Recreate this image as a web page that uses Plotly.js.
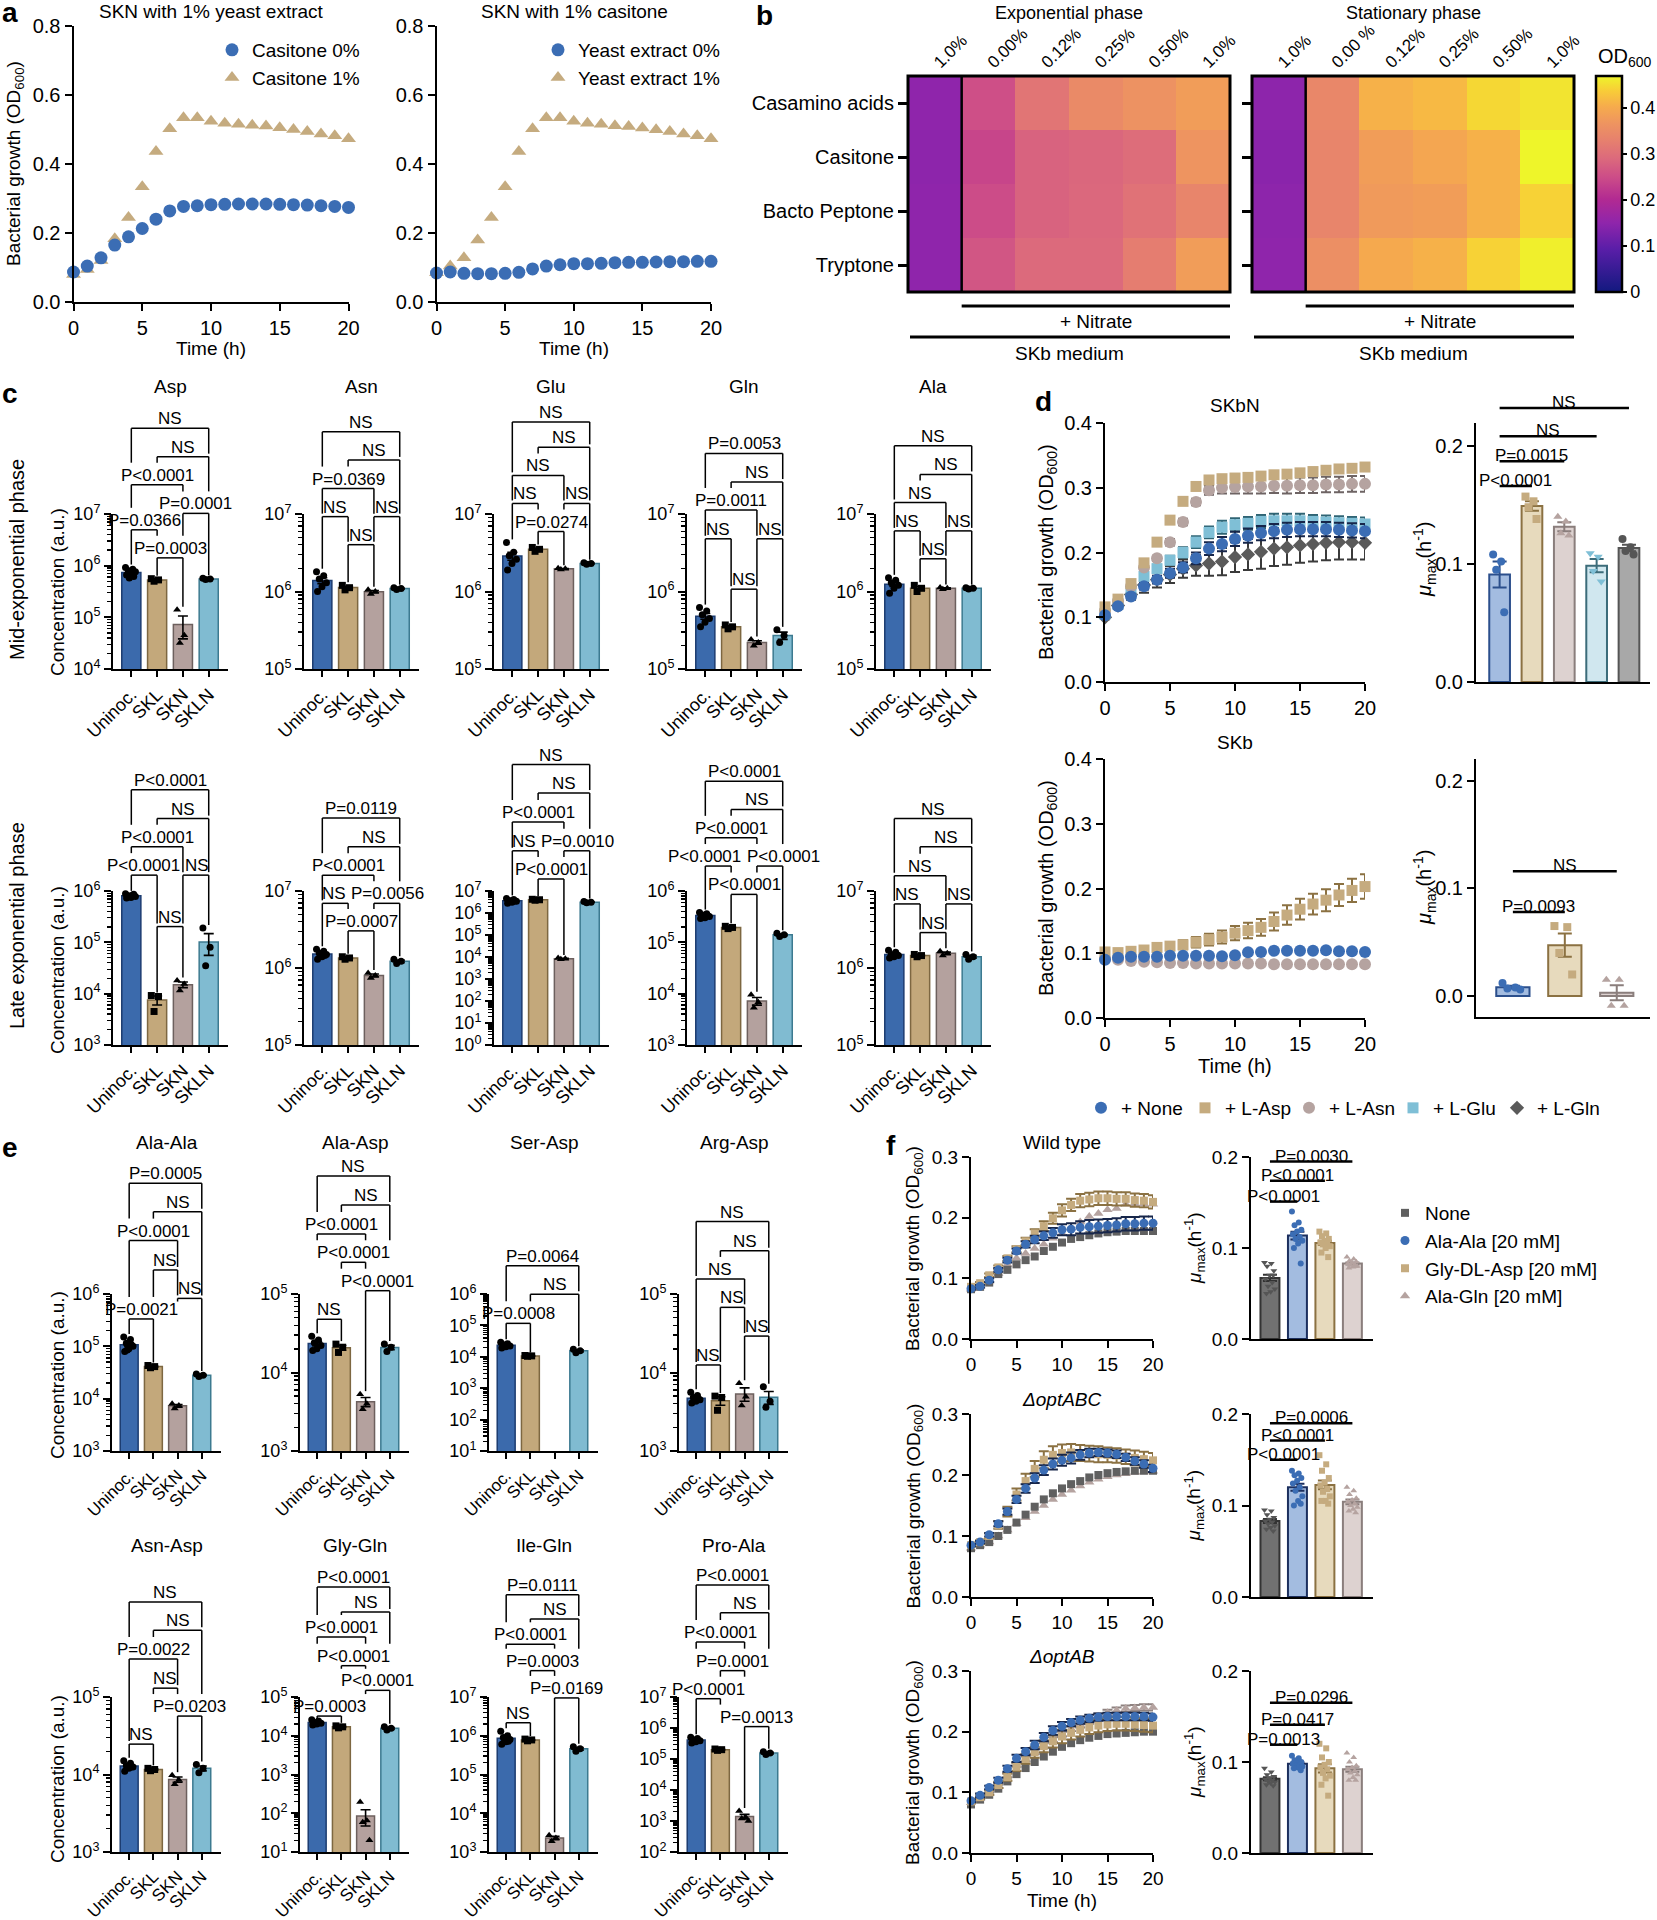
<!DOCTYPE html>
<html><head><meta charset="utf-8">
<script src="https://cdn.plot.ly/plotly-3.0.1.min.js"></script>
<style>html,body{margin:0;padding:0;background:#fff;}#chart{width:1657px;height:1920px;}</style>
</head><body><div id="chart"></div>
<script>
// ======================= DATA =======================
const timeH = [0,1,2,3,4,5,6,7,8,9,10,11,12,13,14,15,16,17,18,19,20];

// ---- panel a
const aCasitone0 = [0.087,0.104,0.128,0.165,0.189,0.213,0.240,0.264,0.277,0.279,0.282,0.283,0.284,0.284,0.284,0.283,0.282,0.281,0.279,0.277,0.274];
const aCasitone1 = [0.080,0.094,0.120,0.183,0.245,0.334,0.436,0.502,0.534,0.534,0.524,0.518,0.515,0.512,0.510,0.505,0.500,0.494,0.487,0.482,0.473];
const aYeast0 = [0.084,0.087,0.083,0.082,0.082,0.083,0.086,0.096,0.104,0.108,0.111,0.111,0.112,0.114,0.115,0.115,0.116,0.117,0.117,0.118,0.118];
const aYeast1 = [0.085,0.104,0.128,0.180,0.245,0.334,0.436,0.502,0.534,0.534,0.524,0.518,0.515,0.511,0.509,0.504,0.499,0.494,0.487,0.482,0.473];

// ---- panel b
const bRows = ['Casamino acids','Casitone','Bacto Peptone','Tryptone'];
const bColsExp = ['1.0%','0.00%','0.12%','0.25%','0.50%','1.0%'];
const bColsStat = ['1.0%','0.00 %','0.12%','0.25%','0.50%','1.0%'];
const bExp = [[0.150,0.254,0.310,0.348,0.362,0.380],[0.148,0.240,0.282,0.287,0.296,0.367],[0.150,0.249,0.282,0.289,0.305,0.338],[0.150,0.263,0.291,0.291,0.324,0.380]];
const bStat = [[0.148,0.343,0.409,0.418,0.446,0.456],[0.145,0.338,0.381,0.395,0.409,0.470],[0.148,0.338,0.376,0.381,0.409,0.442],[0.150,0.357,0.400,0.409,0.442,0.465]];

// ---- panel c / e groups
const groups = ['Uninoc.','SKL','SKN','SKLN'];
// mid-exponential
const aspMid = [[9.2e5,8.5e5,8.0e5,7.6e5,7.0e5,6.6e5,6.2e5,5.8e5],[5.6e5,5.3e5,5.0e5],[1.4e5,4.5e4,3.2e4],[5.7e5,5.5e5,5.4e5]];
const asnMid = [[1.8e6,1.6e6,1.45e6,1.3e6,1.15e6,1.0e6],[1.2e6,1.12e6,1.05e6],[1.05e6,1.0e6,0.93e6],[1.12e6,1.09e6,1.06e6]];
const gluMid = [[4.3e6,3.2e6,2.9e6,2.6e6,2.3e6,1.9e6],[3.7e6,3.5e6,3.3e6],[2.0e6,1.96e6,1.92e6],[2.35e6,2.3e6,2.25e6]];
const glnMid = [[6.2e5,5.6e5,5.0e5,4.5e5,4.0e5,3.5e5],[3.7e5,3.5e5,3.3e5],[2.4e5,2.2e5,2.0e5],[3.2e5,2.7e5,2.2e5]];
const alaMid = [[1.5e6,1.4e6,1.3e6,1.2e6,1.1e6,0.95e6],[1.2e6,1.1e6,1.0e6],[1.13e6,1.1e6,1.07e6],[1.12e6,1.1e6,1.08e6]];
// late exponential
const aspLate = [[8.8e5,8.4e5,8.1e5,7.8e5,7.5e5,7.3e5,8.6e5,7.9e5],[9.2e3,8.8e3,4.5e3],[1.8e4,1.55e4,1.15e4],[1.9e5,8.0e4,3.5e4]];
const asnLate = [[1.75e6,1.65e6,1.55e6,1.5e6,1.4e6,1.3e6,1.45e6],[1.4e6,1.35e6,1.3e6],[8.6e5,8.0e5,7.4e5],[1.3e6,1.22e6,1.14e6]];
const gluLate = [[4.6e6,4.1e6,3.7e6,3.4e6,3.1e6,2.8e6,3.5e6],[4.2e6,4.0e6,3.8e6],[9.0e3,8.4e3,7.8e3],[3.3e6,3.1e6,2.9e6]];
const glnLate = [[3.8e5,3.6e5,3.4e5,3.2e5,3.0e5,2.9e5,3.3e5],[2.05e5,1.95e5,1.85e5],[9.5e3,6.8e3,5.3e3],[1.5e5,1.4e5,1.3e5]];
const alaLate = [[1.7e6,1.6e6,1.5e6,1.45e6,1.4e6,1.35e6,1.5e6],[1.5e6,1.45e6,1.4e6],[1.65e6,1.55e6,1.45e6],[1.5e6,1.4e6,1.3e6]];
// dipeptides
const alaAla = [[1.5e5,1.35e5,1.15e5,1.0e5,9.0e4,8.0e4,1.05e5,8.5e4],[4.3e4,4.1e4,3.9e4],[8.0e3,7.4e3,6.5e3],[2.95e4,2.8e4,2.65e4]];
const alaAsp = [[2.9e4,2.6e4,2.4e4,2.2e4,2.0e4,1.9e4],[2.3e4,2.1e4,1.8e4],[5.3e3,4.0e3,3.4e3],[2.3e4,2.1e4,1.85e4]];
const serAsp = [[2.9e4,2.6e4,2.4e4,2.2e4,2.1e4,1.9e4],[1.1e4,1.07e4,1.04e4],[],[1.75e4,1.55e4,1.35e4]];
const argAsp = [[5.6e3,5.1e3,4.8e3,4.5e3,4.3e3,4.1e3,4.5e3],[5.0e3,4.8e3,3.3e3],[7.3e3,4.9e3,3.8e3],[6.6e3,4.3e3,3.6e3]];
const asnAsp = [[1.5e4,1.4e4,1.3e4,1.25e4,1.2e4,1.1e4,1.25e4],[1.2e4,1.16e4,1.12e4],[9.8e3,8.5e3,7.5e3],[1.35e4,1.2e4,1.05e4]];
const glyGln = [[2.6e4,2.4e4,2.2e4,2.1e4,2.0e4,1.9e4],[1.8e4,1.7e4,1.6e4],[195,65,59,20],[1.7e4,1.55e4,1.4e4]];
const ileGln = [[1.3e6,1.0e6,9.0e5,8.0e5,7.0e5,6.0e5,7.2e5],[8.2e5,7.8e5,7.4e5],[2.7e3,2.3e3,1.9e3],[5.2e5,4.6e5,4.0e5]];
const proAla = [[5.0e5,4.6e5,4.2e5,3.9e5,3.6e5,3.3e5],[2.1e5,2.0e5,1.9e5],[2.1e3,1.3e3,1.2e3,1.0e3],[1.7e5,1.55e5,1.4e5]];

// significance comparisons [group i, group j, label, bracket height (fraction of axis height)]
const aspMidBr = [[0,1,'P=0.0366',0.898],[1,2,'P=0.0003',0.717],[2,3,'P=0.0001',1.004],[0,2,'P<0.0001',1.189],[1,3,'NS',1.370],[0,3,'NS',1.553]];
const asnMidBr = [[0,1,'NS',0.983],[1,2,'NS',0.802],[2,3,'NS',0.983],[0,2,'P=0.0369',1.164],[1,3,'NS',1.349],[0,3,'NS',1.530]];
const gluMidBr = [[0,1,'NS',1.068],[1,2,'P=0.0274',0.887],[2,3,'NS',1.068],[0,2,'NS',1.249],[1,3,'NS',1.430],[0,3,'NS',1.594]];
const glnMidBr = [[0,1,'NS',0.840],[1,2,'NS',0.515],[2,3,'NS',0.840],[0,2,'P=0.0011',1.026],[1,3,'NS',1.206],[0,3,'P=0.0053',1.391]];
const alaMidBr = [[0,1,'NS',0.891],[1,2,'NS',0.711],[2,3,'NS',0.891],[0,2,'NS',1.074],[1,3,'NS',1.255],[0,3,'NS',1.440]];
const aspLateBr = [[0,1,'P<0.0001',1.103],[1,2,'NS',0.769],[2,3,'NS',1.103],[0,2,'P<0.0001',1.287],[1,3,'NS',1.470],[0,3,'P<0.0001',1.657]];
const asnLateBr = [[0,1,'NS',0.920],[1,2,'P=0.0007',0.741],[2,3,'P=0.0056',0.920],[0,2,'P<0.0001',1.103],[1,3,'NS',1.287],[0,3,'P=0.0119',1.474]];
const gluLateBr = [[0,1,'NS',1.261],[1,2,'P<0.0001',1.078],[2,3,'P=0.0010',1.261],[0,2,'P<0.0001',1.448],[1,3,'NS',1.636],[0,3,'NS',1.821]];
const glnLateBr = [[0,1,'P<0.0001',1.162],[1,2,'P<0.0001',0.978],[2,3,'P<0.0001',1.162],[0,2,'P<0.0001',1.345],[1,3,'NS',1.530],[0,3,'P<0.0001',1.713]];
const alaLateBr = [[0,1,'NS',0.916],[1,2,'NS',0.730],[2,3,'NS',0.916],[0,2,'NS',1.099],[1,3,'NS',1.287],[0,3,'NS',1.470]];
const alaAlaBr = [[0,1,'P=0.0021',0.841],[2,3,'NS',0.972],[1,2,'NS',1.153],[0,2,'P<0.0001',1.340],[1,3,'NS',1.524],[0,3,'P=0.0005',1.705]];
const alaAspBr = [[0,1,'NS',0.839],[2,3,'P<0.0001',1.021],[1,2,'P<0.0001',1.202],[0,2,'P<0.0001',1.382],[1,3,'NS',1.567],[0,3,'NS',1.752]];
const serAspBr = [[0,1,'P=0.0008',0.813],[1,3,'NS',0.998],[0,3,'P=0.0064',1.180]];
const argAspBr = [[0,1,'NS',0.548],[2,3,'NS',0.732],[1,2,'NS',0.915],[0,2,'NS',1.096],[1,3,'NS',1.276],[0,3,'NS',1.461]];
const asnAspBr = [[0,1,'NS',0.696],[2,3,'P=0.0203',0.877],[1,2,'NS',1.057],[0,2,'P=0.0022',1.245],[1,3,'NS',1.430],[0,3,'NS',1.613]];
const glyGlnBr = [[0,1,'P=0.0003',0.877],[2,3,'P<0.0001',1.043],[1,2,'P<0.0001',1.202],[0,2,'P<0.0001',1.387],[1,3,'NS',1.549],[0,3,'P<0.0001',1.709]];
const ileGlnBr = [[0,1,'NS',0.834],[2,3,'P=0.0169',0.994],[1,2,'P=0.0003',1.170],[0,2,'P<0.0001',1.340],[1,3,'NS',1.504],[0,3,'P=0.0111',1.660]];
const proAlaBr = [[2,3,'P=0.0013',0.809],[0,1,'P<0.0001',0.989],[1,2,'P=0.0001',1.170],[0,2,'P<0.0001',1.355],[1,3,'NS',1.543],[0,3,'P<0.0001',1.723]];

// ---- panel d (SKbN, SKb)
const dNone = [0.103,0.117,0.132,0.148,0.158,0.168,0.177,0.191,0.206,0.213,0.221,0.226,0.230,0.233,0.235,0.236,0.236,0.236,0.235,0.234,0.233];
const dNoneErr = [0.002,0.003,0.004,0.005,0.006,0.007,0.008,0.009,0.010,0.011,0.011,0.011,0.011,0.011,0.011,0.011,0.011,0.011,0.011,0.011,0.011];
const dAsp = [0.116,0.128,0.152,0.184,0.216,0.250,0.279,0.302,0.312,0.314,0.315,0.316,0.318,0.320,0.321,0.323,0.325,0.327,0.329,0.330,0.332];
const dAspErr = [0.002,0.002,0.003,0.003,0.003,0.003,0.003,0.003,0.003,0.003,0.003,0.003,0.003,0.003,0.003,0.003,0.003,0.003,0.003,0.003,0.003];
const dAsn = [0.110,0.125,0.148,0.177,0.191,0.216,0.247,0.278,0.296,0.300,0.301,0.302,0.302,0.303,0.303,0.304,0.304,0.305,0.305,0.306,0.306];
const dAsnErr = [0.002,0.003,0.003,0.004,0.004,0.005,0.005,0.005,0.007,0.009,0.010,0.011,0.011,0.011,0.012,0.012,0.012,0.012,0.012,0.012,0.012];
const dGlu = [0.105,0.120,0.140,0.163,0.175,0.188,0.200,0.216,0.231,0.239,0.243,0.245,0.248,0.249,0.249,0.249,0.248,0.247,0.246,0.245,0.244];
const dGluErr = [0.002,0.003,0.004,0.005,0.006,0.007,0.008,0.009,0.009,0.010,0.010,0.010,0.010,0.011,0.011,0.011,0.010,0.010,0.010,0.010,0.010];
const dGln = [0.100,0.118,0.135,0.150,0.158,0.166,0.175,0.180,0.183,0.186,0.193,0.197,0.201,0.206,0.208,0.211,0.213,0.215,0.216,0.216,0.215];
const dGlnErr = [0.003,0.005,0.008,0.012,0.012,0.013,0.014,0.016,0.019,0.021,0.023,0.024,0.026,0.027,0.027,0.027,0.027,0.027,0.027,0.027,0.026];
const d2None = [0.090,0.093,0.0945,0.0945,0.0945,0.096,0.096,0.096,0.096,0.0955,0.097,0.1015,0.102,0.104,0.104,0.104,0.104,0.1045,0.103,0.103,0.102];
const d2Asp = [0.102,0.101,0.103,0.105,0.109,0.111,0.113,0.117,0.121,0.125,0.131,0.135,0.140,0.149,0.159,0.168,0.176,0.182,0.190,0.197,0.203];
const d2AspErr = [0.003,0.003,0.004,0.004,0.005,0.006,0.007,0.008,0.009,0.010,0.011,0.012,0.013,0.014,0.015,0.016,0.016,0.017,0.017,0.018,0.019];
const d2Asn = [0.092,0.090,0.088,0.087,0.086,0.085,0.085,0.084,0.084,0.084,0.084,0.084,0.084,0.083,0.083,0.083,0.083,0.083,0.083,0.083,0.083];
const dNames = ['+ None','+ L-Asp','+ L-Asn','+ L-Glu','+ L-Gln'];
const dMuSKbN = [[0.108,0.102,0.095,0.059],[0.157,0.153,0.148,0.138],[0.140,0.136,0.126,0.124],[0.109,0.106,0.094,0.085],[0.121,0.114,0.111,0.108]];
const dMuSKb = [[0.012,0.008,0.007,0.006],[0.065,0.064,0.040,0.020],[0.015,0.015,-0.009,-0.009]];
const dMuSKbNBr = [[0,1,'P<0.0001',0.166],[0,2,'P=0.0015',0.187],[0,3,'NS',0.208],[0,4,'NS',0.232]];
const dMuSKbBr = [[0,1,'P=0.0093',0.078],[0,2,'NS',0.116]];

// ---- panel f
const fNames = ['None','Ala-Ala [20 mM]','Gly-DL-Asp [20 mM]','Ala-Gln [20 mM]'];
const fWtNone = [0.082,0.086,0.093,0.107,0.114,0.123,0.130,0.136,0.145,0.152,0.159,0.165,0.168,0.171,0.174,0.176,0.177,0.178,0.178,0.178,0.178];
const fWtAlaAla = [0.083,0.087,0.097,0.114,0.130,0.145,0.156,0.164,0.170,0.175,0.180,0.181,0.184,0.185,0.186,0.187,0.188,0.190,0.190,0.191,0.191];
const fWtAlaAlaErr = [0.002,0.002,0.003,0.003,0.004,0.004,0.005,0.006,0.007,0.008,0.009,0.010,0.010,0.011,0.011,0.011,0.011,0.011,0.011,0.011,0.011];
const fWtGlyAsp = [0.086,0.092,0.105,0.118,0.133,0.148,0.161,0.174,0.186,0.199,0.212,0.221,0.228,0.230,0.232,0.232,0.231,0.231,0.229,0.228,0.226];
const fWtGlyAspErr = [0.002,0.002,0.003,0.003,0.004,0.005,0.006,0.007,0.008,0.009,0.010,0.010,0.011,0.011,0.011,0.011,0.011,0.011,0.011,0.011,0.011];
const fWtAlaGln = [0.082,0.087,0.095,0.108,0.123,0.133,0.141,0.149,0.156,0.166,0.174,0.183,0.193,0.202,0.207,0.213,0.215,0.222,0.223,0.223,0.222];
const fAbcNone = [0.080,0.085,0.090,0.100,0.110,0.122,0.135,0.148,0.160,0.170,0.178,0.185,0.190,0.196,0.200,0.203,0.205,0.206,0.207,0.207,0.207];
const fAbcAlaAla = [0.085,0.090,0.102,0.120,0.140,0.160,0.178,0.195,0.208,0.218,0.224,0.228,0.233,0.236,0.237,0.236,0.234,0.229,0.223,0.218,0.211];
const fAbcAlaAlaErr = [0.002,0.002,0.003,0.004,0.005,0.006,0.007,0.008,0.008,0.009,0.009,0.009,0.008,0.007,0.006,0.006,0.006,0.006,0.006,0.006,0.006];
const fAbcGlyAsp = [0.085,0.090,0.100,0.118,0.140,0.168,0.190,0.210,0.225,0.233,0.236,0.237,0.236,0.235,0.234,0.233,0.232,0.230,0.228,0.226,0.224];
const fAbcGlyAspErr = [0.002,0.003,0.004,0.006,0.008,0.010,0.012,0.013,0.014,0.014,0.014,0.014,0.013,0.013,0.013,0.012,0.012,0.012,0.012,0.012,0.012];
const fAbcAlaGln = [0.080,0.085,0.090,0.100,0.110,0.120,0.130,0.140,0.150,0.160,0.168,0.175,0.182,0.188,0.193,0.197,0.200,0.202,0.204,0.205,0.206];
const fAbNone = [0.080,0.088,0.096,0.106,0.118,0.130,0.140,0.150,0.159,0.167,0.175,0.181,0.186,0.190,0.193,0.196,0.197,0.198,0.199,0.200,0.200];
const fAbAlaAla = [0.086,0.095,0.108,0.120,0.139,0.156,0.167,0.178,0.191,0.202,0.209,0.215,0.219,0.222,0.224,0.225,0.225,0.225,0.225,0.225,0.224];
const fAbAlaAlaErr = [0.002,0.003,0.003,0.004,0.005,0.006,0.006,0.007,0.007,0.007,0.007,0.006,0.006,0.006,0.006,0.006,0.006,0.006,0.006,0.006,0.006];
const fAbGlyAsp = [0.085,0.092,0.100,0.112,0.125,0.142,0.155,0.166,0.176,0.184,0.192,0.198,0.203,0.207,0.210,0.212,0.213,0.213,0.212,0.211,0.210];
const fAbGlyAspErr = [0.002,0.003,0.004,0.005,0.006,0.007,0.008,0.009,0.010,0.010,0.011,0.011,0.011,0.011,0.011,0.011,0.011,0.011,0.011,0.011,0.011];
const fAbAlaGln = [0.083,0.090,0.098,0.110,0.128,0.145,0.155,0.167,0.177,0.187,0.196,0.205,0.212,0.218,0.225,0.231,0.235,0.238,0.239,0.240,0.240];
const fAbAlaGlnErr = [0.001,0.002,0.002,0.003,0.003,0.003,0.004,0.004,0.004,0.004,0.004,0.004,0.005,0.005,0.005,0.005,0.005,0.005,0.005,0.005,0.005];
const fMuWt = [[0.084,0.083,0.080,0.075,0.070,0.066,0.062,0.058,0.055,0.052,0.050,0.070],[0.140,0.128,0.125,0.120,0.118,0.115,0.112,0.110,0.108,0.105,0.100,0.083],[0.118,0.116,0.113,0.110,0.108,0.106,0.105,0.104,0.102,0.100,0.095,0.090],[0.090,0.088,0.086,0.085,0.084,0.083,0.082,0.081,0.080,0.079,0.078,0.080]];
const fMuAbc = [[0.095,0.094,0.090,0.087,0.085,0.083,0.082,0.080,0.078,0.076,0.074,0.072],[0.138,0.135,0.133,0.130,0.127,0.124,0.120,0.116,0.110,0.105,0.100,0.102],[0.155,0.145,0.138,0.130,0.125,0.122,0.118,0.115,0.110,0.105,0.105,0.102],[0.120,0.116,0.112,0.108,0.106,0.104,0.102,0.100,0.098,0.096,0.094,0.092]];
const fMuAb = [[0.093,0.089,0.086,0.084,0.082,0.081,0.080,0.079,0.078,0.077,0.075,0.074],[0.107,0.104,0.102,0.100,0.099,0.098,0.097,0.096,0.095,0.094,0.093,0.091],[0.120,0.115,0.105,0.100,0.097,0.094,0.092,0.088,0.085,0.082,0.075,0.063],[0.110,0.105,0.100,0.096,0.094,0.092,0.090,0.088,0.086,0.083,0.080,0.080]];
const fMuWtBr = [[0,1,'P<0.0001',0.151],[0,2,'P<0.0001',0.174],[0,3,'P=0.0030',0.195]];
const fMuAbcBr = [[0,1,'P<0.0001',0.150],[0,2,'P<0.0001',0.171],[0,3,'P=0.0006',0.190]];
const fMuAbBr = [[0,1,'P=0.0013',0.119],[0,2,'P=0.0417',0.141],[0,3,'P=0.0296',0.165]];

// ======================= STYLE / BUILD =======================
const W = 1657, H = 1920;
const FONT = '"Liberation Sans", Arial, Helvetica, sans-serif';
const BLUE='#3b6db4', TAN='#c5ab7f', MAUVE='#b5a3a0', LBLUE='#7fbfd6', DGREY='#5a5a5a';
const GROUP_FILL = ['#3b6aac','#c3a87b','#b4a19e','#80bbd1'];
const GROUP_EDGE = ['#1c3c70','#7d6741','#6d605e','#3c7a90'];
const GROUP_SYM = ['circle','square','triangle-up','circle'];
const CSCALE = [[0,'#12197f'],[0.2,'#5a1ea8'],[0.32,'#8f25ab'],[0.43,'#b22a92'],[0.53,'#cc4c88'],[0.62,'#dc6a7c'],[0.7,'#e6806e'],[0.78,'#ee9460'],[0.86,'#f6ac4c'],[0.93,'#f8cc38'],[1,'#eef52a']];

const traces = [];
const layout = {width:W, height:H, margin:{l:0,r:0,t:0,b:0,pad:0,autoexpand:false}, paper_bgcolor:'#fff', plot_bgcolor:'rgba(0,0,0,0)',
  font:{family:FONT, size:18, color:'#000'}, barmode:'overlay', showlegend:true, shapes:[], annotations:[]};
const shapes = layout.shapes, ann = layout.annotations;
const axisBase = {showline:true, linecolor:'#000', linewidth:2, ticks:'outside', tickwidth:2, ticklen:7, tickcolor:'#000',
  showgrid:false, zeroline:false, fixedrange:true, automargin:false, tickfont:{size:18, color:'#000'}};
let nAx = 0;
function makeAxes(l, r, t, b, xo, yo){
  nAx++; const s = nAx===1 ? '' : String(nAx);
  layout['xaxis'+s] = Object.assign({}, axisBase, {domain:[l/W, r/W], anchor:'y'+s}, xo);
  layout['yaxis'+s] = Object.assign({}, axisBase, {domain:[1-b/H, 1-t/H], anchor:'x'+s}, yo);
  return {x:'x'+s, y:'y'+s, l, r, t, b, xr:xo.range, yr:yo.range, ylog:yo.type==='log'};
}
function txt(x, y, text, o){ ann.push(Object.assign({xref:'paper', yref:'paper', x:x/W, y:1-y/H, text, showarrow:false, xanchor:'center', yanchor:'middle', font:{size:18, color:'#000'}}, o||{})); }
function hline(x0, x1, y, w){ shapes.push({type:'line', xref:'paper', yref:'paper', x0:x0/W, x1:x1/W, y0:1-y/H, y1:1-y/H, line:{color:'#000', width:w||2.5}}); }
function fx(ax, v){ return (v-ax.xr[0])/(ax.xr[1]-ax.xr[0]); }
function fy(ax, v){ const val = ax.ylog ? Math.log10(v) : v; return (val-ax.yr[0])/(ax.yr[1]-ax.yr[0]); }
const mean = a => a.reduce((s,v)=>s+v,0)/a.length;
const sem = a => { if(a.length<2) return 0; const m=mean(a); return Math.sqrt(a.reduce((s,v)=>s+(v-m)*(v-m),0)/(a.length-1)/a.length); };
const jit = (k,n,spread) => n<2 ? 0 : (((k*0.618034)%1)-0.5)*spread;
const cvs = document.createElement('canvas').getContext('2d');
function textW(t, size){ cvs.font = size+'px "Liberation Sans", Arial'; return cvs.measureText(t).width; }
function logAxis(r, size){
  const tv=[], tt=[], mv=[];
  for(let p=r[0]; p<=r[1]; p++){ tv.push(Math.pow(10,p)); tt.push('10<sup>'+p+'</sup>'); if(p<r[1]) for(let k=2;k<=9;k++) mv.push(k*Math.pow(10,p)); }
  return {type:'log', range:r, tickmode:'array', tickvals:tv, ticktext:tt, tickfont:{size:size||18, color:'#000'},
    minor:{tickmode:'array', tickvals:mv, ticks:'outside', ticklen:4, tickwidth:1.3, tickcolor:'#000'}};
}

// ---------- growth-curve helper
function growth(ax, y, err, name, sym, color, size, errColor, legend, rank){
  const t = {type:'scatter', mode:'markers', x:timeH, y, xaxis:ax.x, yaxis:ax.y, name, cliponaxis:false, hoverinfo:'skip',
    marker:{symbol:sym, size, color, line:{width:0}}};
  if(err) t.error_y = {type:'data', array:err, visible:true, color:errColor, thickness:2, width:5};
  if(legend){ t.legend = legend; t.legendrank = rank; t.showlegend = true; } else t.showlegend = false;
  traces.push(t);
}
function growthAxes(l, r, t, b, yr, ydt, tf){
  return makeAxes(l, r, t, b, {range:[0,20], dtick:5, tick0:0, tickfont:{size:tf||20, color:'#000'}},
    {range:yr, dtick:ydt, tick0:0, tickformat:'.1f', tickfont:{size:tf||20, color:'#000'}});
}

// ---------- concentration bar helper (c, e)
function concPlot(ax, pts, brackets){
  const means = pts.map(p => p.length ? mean(p) : null);
  const sems = pts.map(p => p.length ? sem(p) : 0);
  traces.push({type:'bar', x:[0,1,2,3], y:means, width:0.74, xaxis:ax.x, yaxis:ax.y, showlegend:false, hoverinfo:'skip',
    marker:{color:GROUP_FILL, line:{color:GROUP_EDGE, width:1.5}},
    error_y:{type:'data', array:sems, visible:true, color:'#000', thickness:1.6, width:5}});
  pts.forEach((p,g) => { if(!p.length) return;
    traces.push({type:'scatter', mode:'markers', x:p.map((v,k)=>g+jit(k,p.length,0.45)), y:p, xaxis:ax.x, yaxis:ax.y,
      marker:{symbol:GROUP_SYM[g], size:7, color:'#000'}, cliponaxis:false, showlegend:false, hoverinfo:'skip'}); });
  const hPx = ax.b-ax.t, unitPx = (ax.r-ax.l)/(ax.xr[1]-ax.xr[0]);
  const labH = 19/hPx, gap = 3/hPx;
  const tops = pts.map((p,g) => p.length ? fy(ax, Math.max(means[g]+sems[g], ...p)) : 0);
  const B = brackets.map(([i,j,lab,lev]) => ({i,j,lab,lev,c:(i+j)/2,cx:(i+j)/2,w:textW(lab,17)/unitPx}));
  // push apart labels that share a level and would overlap
  B.forEach(a => B.forEach(b => {
    if(a===b || Math.abs(a.lev-b.lev) > 0.005 || a.c >= b.c) return;
    const need = (a.w+b.w)/2 + 5/unitPx, d = b.cx-a.cx;
    if(d < need){ const s = (need-d)/2; a.cx -= s; b.cx += s; }
  }));
  B.forEach(b => {
    const bottom = col => { let ob = tops[col];
      B.forEach(m => { if(m.lev >= b.lev) return;
        if(col >= m.i && col <= m.j) ob = Math.max(ob, m.lev);
        if(Math.abs(col-m.cx) < m.w/2) ob = Math.max(ob, m.lev+labH); });
      return Math.min(ob+gap, b.lev-0.02); };
    const x0 = fx(ax,b.i), x1 = fx(ax,b.j), xr = ax.x+' domain', yr = ax.y+' domain';
    const L = {color:'#000', width:1.5};
    shapes.push({type:'line', xref:xr, yref:yr, x0, x1:x0, y0:bottom(b.i), y1:b.lev, line:L});
    shapes.push({type:'line', xref:xr, yref:yr, x0, x1, y0:b.lev, y1:b.lev, line:L});
    shapes.push({type:'line', xref:xr, yref:yr, x0:x1, x1, y0:bottom(b.j), y1:b.lev, line:L});
    ann.push({xref:xr, yref:yr, x:fx(ax,b.cx), y:b.lev, xanchor:'center', yanchor:'bottom', text:b.lab, showarrow:false,
      font:{size:17, color:'#000'}, borderpad:0, yshift:-1});
  });
}

// ---------- growth-rate bar helper (d, f)
function muPlot(ax, pts, st, brackets, bw){
  pts.forEach((p,g) => {
    traces.push({type:'bar', x:[g], y:[mean(p)], width:bw, xaxis:ax.x, yaxis:ax.y, showlegend:false, hoverinfo:'skip',
      marker:{color:st.fill[g], line:{color:st.edge[g], width:2}},
      error_y:{type:'data', array:[sem(p)], visible:true, color:st.edge[g], thickness:2, width:7}});
  });
  pts.forEach((p,g) => {
    traces.push({type:'scatter', mode:'markers', x:p.map((v,k)=>g+jit(k,p.length,0.4)), y:p, xaxis:ax.x, yaxis:ax.y,
      marker:{symbol:st.sym[g], size:st.size, color:st.pt[g]}, cliponaxis:false, showlegend:false, hoverinfo:'skip'});
  });
  brackets.forEach(([i,j,lab,lev]) => {
    const y = fy(ax,lev), xr = ax.x+' domain', yr = ax.y+' domain';
    shapes.push({type:'line', xref:xr, yref:yr, x0:fx(ax,i), x1:fx(ax,j), y0:y, y1:y, line:{color:'#000', width:2.5}});
    ann.push({xref:xr, yref:yr, x:fx(ax,(i+j)/2), y, xanchor:'center', yanchor:'bottom', text:lab, showarrow:false,
      font:{size:17, color:'#000'}, borderpad:0, yshift:-5});
  });
}
const muX = {showticklabels:false, ticks:''};
const muY = (r, f) => ({range:r, tickvals:[0,0.1,0.2], ticktext:['0.0','0.1','0.2'], tickfont:{size:f||20, color:'#000'}});

// ======================= PANEL a =======================
const A1 = growthAxes(73.5, 348.5, 26, 302, [0,0.8], 0.2);
const A2 = growthAxes(436.5, 711, 26, 302, [0,0.8], 0.2);
growth(A1, aCasitone1, null, 'Casitone 1%', 'triangle-up', TAN, 13, null, 'legend', 2);
growth(A1, aCasitone0, null, 'Casitone 0%', 'circle', BLUE, 13, null, 'legend', 1);
growth(A2, aYeast1, null, 'Yeast extract 1%', 'triangle-up', TAN, 13, null, 'legend2', 2);
growth(A2, aYeast0, null, 'Yeast extract 0%', 'circle', BLUE, 13, null, 'legend2', 1);
txt(211, 12, 'SKN with 1% yeast extract', {font:{size:19}});
txt(574, 12, 'SKN with 1% casitone', {font:{size:19}});
txt(211, 348, 'Time (h)', {font:{size:19}});
txt(574, 348, 'Time (h)', {font:{size:19}});
txt(15, 164, 'Bacterial growth (OD<sub>600</sub>)', {textangle:-90, font:{size:19}});
const legA = {xanchor:'left', yanchor:'top', bgcolor:'rgba(0,0,0,0)', font:{size:19}, tracegroupgap:0, itemwidth:30};
layout.legend = Object.assign({x:212/W, y:1-31/H}, legA);
layout.legend2 = Object.assign({x:538/W, y:1-31/H}, legA);

// ======================= PANEL b =======================
function heat(l, r, z, cols, rowLabels, showscale){
  const ax = makeAxes(l, r, 76, 292,
    {range:[-0.5,5.5], side:'top', tickmode:'array', tickvals:[0,1,2,3,4,5], ticktext:cols, tickangle:-45, ticks:'', showline:false, tickfont:{size:17, color:'#000'}},
    {range:[3.5,-0.5], tickmode:'array', tickvals:[0,1,2,3], ticktext:rowLabels ? bRows : ['','','',''], showticklabels:!!rowLabels, ticks:'outside', ticklen:9, tickwidth:3, showline:false, tickfont:{size:20, color:'#000'}});
  const tr = {type:'heatmap', z, x:[0,1,2,3,4,5], y:[0,1,2,3], xaxis:ax.x, yaxis:ax.y, zmin:0, zmax:0.47, colorscale:CSCALE,
    showscale, xgap:0, ygap:0, hoverinfo:'skip'};
  if(showscale) tr.colorbar = {x:1596/W, xanchor:'left', xref:'paper', y:1-292/H, yanchor:'bottom', yref:'paper',
    len:216/H, lenmode:'fraction', thickness:26, thicknessmode:'pixels', outlinewidth:2.5, outlinecolor:'#000',
    xpad:0, ypad:0, tickmode:'array', tickvals:[0,0.1,0.2,0.3,0.4], ticktext:['0','0.1','0.2','0.3','0.4'], ticks:'outside', ticklen:4, tickwidth:2, tickcolor:'#000', tickfont:{size:18, color:'#000'}};
  traces.push(tr);
  const xr = ax.x+' domain', yr = ax.y+' domain';
  shapes.push({type:'rect', xref:xr, yref:yr, x0:0, x1:1, y0:0, y1:1, line:{color:'#000', width:3}});
  shapes.push({type:'line', xref:xr, yref:yr, x0:fx(ax,0.5), x1:fx(ax,0.5), y0:0, y1:1, line:{color:'#000', width:2.5}});
  const c1 = l + (r-l)/6;
  hline(c1, r, 306, 3); txt((c1+r)/2, 321, '+ Nitrate', {font:{size:19}});
  hline(l+2, r, 337, 3); txt((l+r)/2, 353, 'SKb medium', {font:{size:19}});
  txt((l+r)/2, 13, r < 1240 ? 'Exponential phase' : 'Stationary phase', {font:{size:18}});
}
heat(908, 1230, bExp, bColsExp, true, false);
heat(1252, 1574, bStat, bColsStat, false, true);
txt(1596, 58, 'OD<sub>600</sub>', {xanchor:'left', font:{size:20}});

// ======================= PANEL c =======================
const cX = [113, 304, 494, 687, 876];
const cNames = ['Asp','Asn','Glu','Gln','Ala'];
const cMid = [aspMid, asnMid, gluMid, glnMid, alaMid];
const cMidBr = [aspMidBr, asnMidBr, gluMidBr, glnMidBr, alaMidBr];
const cMidR = [[4,7],[5,7],[5,7],[5,7],[5,7]];
const cLate = [aspLate, asnLate, gluLate, glnLate, alaLate];
const cLateBr = [aspLateBr, asnLateBr, gluLateBr, glnLateBr, alaLateBr];
const cLateR = [[3,6],[5,7],[0,7],[3,6],[5,7]];
const catX = (w, pitch, f) => ({range:[-0.71, -0.71 + w/pitch], tickmode:'array', tickvals:[0,1,2,3], ticktext:groups, tickangle:-45, ticklen:6, tickfont:{size:f, color:'#000'}});
for(let i=0;i<5;i++){
  const am = makeAxes(cX[i], cX[i]+115, 514, 669, catX(115, 25.8, 18), logAxis(cMidR[i]));
  concPlot(am, cMid[i], cMidBr[i]);
  txt(cX[i]+57, 387, cNames[i], {font:{size:19}});
  const al = makeAxes(cX[i], cX[i]+115, 891, 1045, catX(115, 25.8, 18), logAxis(cLateR[i]));
  concPlot(al, cLate[i], cLateBr[i]);
}
txt(17, 560, 'Mid-exponential phase', {textangle:-90, font:{size:20}});
txt(57, 592, 'Concentration (a.u.)', {textangle:-90, font:{size:19}});
txt(17, 926, 'Late exponential phase', {textangle:-90, font:{size:20}});
txt(57, 970, 'Concentration (a.u.)', {textangle:-90, font:{size:19}});

// ======================= PANEL d =======================
const D1 = growthAxes(1105, 1365, 423, 682, [0,0.4], 0.1);
growth(D1, dGln, dGlnErr, dNames[4], 'diamond', DGREY, 11, '#3a3a3a', 'legend3', 5);
growth(D1, dGlu, dGluErr, dNames[3], 'square', LBLUE, 11, '#2f6474', 'legend3', 4);
growth(D1, dAsn, dAsnErr, dNames[2], 'circle', MAUVE, 12, '#6e6464', 'legend3', 3);
growth(D1, dAsp, dAspErr, dNames[1], 'square', TAN, 11, '#8b7142', 'legend3', 2);
growth(D1, dNone, dNoneErr, dNames[0], 'circle', BLUE, 12, '#17264a', 'legend3', 1);
const D2 = growthAxes(1105, 1365, 759, 1018, [0,0.4], 0.1);
growth(D2, d2Asn, null, null, 'circle', MAUVE, 12);
growth(D2, d2Asp, d2AspErr, null, 'square', TAN, 11, '#8b7142');
growth(D2, d2None, null, null, 'circle', BLUE, 12);
const D_ST = {fill:['#a3bce0','#e7dabd','#ddd2d0','#d0e7ef','#a8a8a8'], edge:['#2b4f8c','#8b7142','#8a7e7c','#3c6c7a','#555555'],
  pt:[BLUE,TAN,MAUVE,LBLUE,'#555555'], sym:['circle','square','triangle-up','triangle-down','circle'], size:8};
const DM1 = makeAxes(1476, 1650, 423, 682, Object.assign({range:[-0.73,4.65]}, muX), muY([0,0.2193]));
muPlot(DM1, dMuSKbN, D_ST, dMuSKbNBr, 0.64);
const DM2 = makeAxes(1476, 1650, 759, 1017, Object.assign({range:[-0.71,2.64]}, muX), muY([-0.0195,0.2202]));
muPlot(DM2, dMuSKb, D_ST, dMuSKbBr, 0.64);
txt(1235, 405, 'SKbN', {font:{size:19}}); txt(1235, 742, 'SKb', {font:{size:19}});
txt(1235, 1066, 'Time (h)', {font:{size:20}});
txt(1047, 552, 'Bacterial growth (OD<sub>600</sub>)', {textangle:-90, font:{size:20}});
txt(1047, 888, 'Bacterial growth (OD<sub>600</sub>)', {textangle:-90, font:{size:20}});
txt(1424, 560, '<i>μ</i><sub>max</sub>(h<sup>-1</sup>)', {textangle:-90, font:{size:20}});
txt(1424, 888, '<i>μ</i><sub>max</sub>(h<sup>-1</sup>)', {textangle:-90, font:{size:20}});
layout.legend3 = {orientation:'h', x:1081/W, y:1-1089/H, xanchor:'left', yanchor:'top', entrywidth:59, entrywidthmode:'pixels',
  bgcolor:'rgba(0,0,0,0)', font:{size:19}, itemwidth:30, traceorder:'normal'};

// ======================= PANEL e =======================
const eX = [112, 300, 489, 679];
const eTop = [alaAla, alaAsp, serAsp, argAsp], eTopBr = [alaAlaBr, alaAspBr, serAspBr, argAspBr];
const eTopR = [[3,6],[3,5],[1,6],[3,5]], eTopN = ['Ala-Ala','Ala-Asp','Ser-Asp','Arg-Asp'];
const eBot = [asnAsp, glyGln, ileGln, proAla], eBotBr = [asnAspBr, glyGlnBr, ileGlnBr, proAlaBr];
const eBotR = [[3,5],[1,5],[3,7],[2,7]], eBotN = ['Asn-Asp','Gly-Gln','Ile-Gln','Pro-Ala'];
for(let i=0;i<4;i++){
  const at = makeAxes(eX[i], eX[i]+109, 1294, 1451, catX(109, 24.2, 17), logAxis(eTopR[i]));
  concPlot(at, eTop[i], eTopBr[i]); txt(eX[i]+55, 1142, eTopN[i], {font:{size:19}});
  const ab = makeAxes(eX[i], eX[i]+109, 1697, 1852, catX(109, 24.2, 17), logAxis(eBotR[i]));
  concPlot(ab, eBot[i], eBotBr[i]); txt(eX[i]+55, 1545, eBotN[i], {font:{size:19}});
}
txt(57, 1375, 'Concentration (a.u.)', {textangle:-90, font:{size:19}});
txt(57, 1779, 'Concentration (a.u.)', {textangle:-90, font:{size:19}});

// ======================= PANEL f =======================
const F_ST = {fill:['#717171','#a3bce0','#e7dabd','#ddd2d0'], edge:['#333333','#1c2f5e','#8b7142','#8a7e7c'],
  pt:['#555555',BLUE,TAN,MAUVE], sym:['triangle-down','circle','square','triangle-up'], size:6};
const fRows = [
  {t:1157, b:1339, title:'Wild type', s:[fWtNone,fWtAlaAla,fWtGlyAsp,fWtAlaGln], e:[null,fWtAlaAlaErr,fWtGlyAspErr,null], mu:fMuWt, br:fMuWtBr, leg:true},
  {t:1414, b:1597, title:'<i>ΔoptABC</i>', s:[fAbcNone,fAbcAlaAla,fAbcGlyAsp,fAbcAlaGln], e:[null,fAbcAlaAlaErr,fAbcGlyAspErr,null], mu:fMuAbc, br:fMuAbcBr},
  {t:1671, b:1853, title:'<i>ΔoptAB</i>', s:[fAbNone,fAbAlaAla,fAbGlyAsp,fAbAlaGln], e:[null,fAbAlaAlaErr,fAbGlyAspErr,fAbAlaGlnErr], mu:fMuAb, br:fMuAbBr}
];
fRows.forEach(R => {
  const ax = growthAxes(971, 1153, R.t, R.b, [0,0.3], 0.1, 19);
  const lg = R.leg ? 'legend4' : null;
  growth(ax, R.s[3], R.e[3], fNames[3], 'triangle-up', MAUVE, 9, '#8e8280', lg, 4);
  growth(ax, R.s[0], R.e[0], fNames[0], 'square', '#606060', 8, '#333', lg, 1);
  growth(ax, R.s[2], R.e[2], fNames[2], 'square', TAN, 8, '#8b7142', lg, 3);
  growth(ax, R.s[1], R.e[1], fNames[1], 'circle', BLUE, 9, '#17264a', lg, 2);
  const am = makeAxes(1251, 1373, R.t, R.b, Object.assign({range:[-0.69,3.75]}, muX), muY([0,0.2], 19));
  muPlot(am, R.mu, F_ST, R.br, 0.69);
  txt(1062, R.t-15, R.title, {font:{size:19}});
  txt(914, (R.t+R.b)/2, 'Bacterial growth (OD<sub>600</sub>)', {textangle:-90, font:{size:19}});
  txt(1194, (R.t+R.b)/2, '<i>μ</i><sub>max</sub>(h<sup>-1</sup>)', {textangle:-90, font:{size:19}});
});
txt(1062, 1900, 'Time (h)', {font:{size:19}});
layout.legend4 = {x:1385/W, y:1-1194/H, xanchor:'left', yanchor:'top', bgcolor:'rgba(0,0,0,0)', font:{size:19}, tracegroupgap:0, itemwidth:30};

// ======================= panel letters =======================
[['a',10,13],['b',764,16],['c',10,393],['d',1043,402],['e',10,1147],['f',891,1145]].forEach(([t,x,y]) => txt(x, y, '<b>'+t+'</b>', {font:{size:28, color:'#000'}}));

Plotly.newPlot('chart', traces, layout, {staticPlot:true});
</script></body></html>
